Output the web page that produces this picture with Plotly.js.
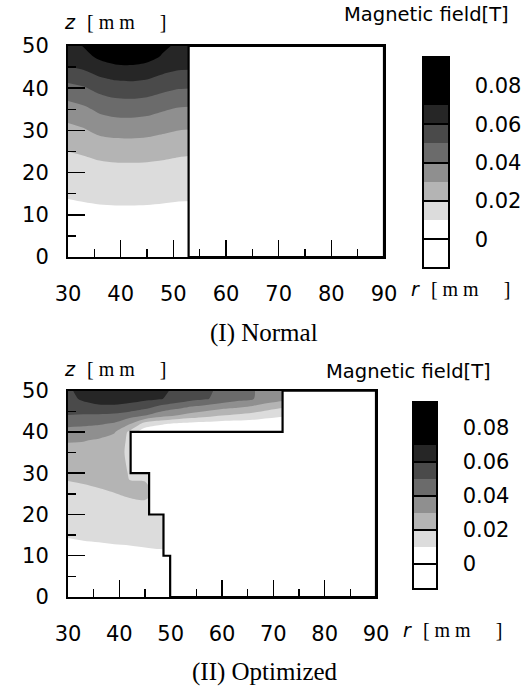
<!DOCTYPE html>
<html>
<head>
<meta charset="utf-8">
<script src="https://cdn.plot.ly/plotly-3.0.1.min.js"></script>
<style>html,body{margin:0;padding:0;background:#fff;}#chart{width:528px;height:686px;}</style>
</head>
<body>
<div id="chart"></div>
<script>
// ---------- (I) Normal : field B [T] on grid (rows = z, columns = r) ----------
const topR = [30, 33, 36, 39, 42, 45, 48, 51, 54];
const topZ = [0, 5, 10, 15, 20, 25, 30, 35, 40, 42.5, 45, 47.5, 50];
const topB = [
  [0.002, 0.0022, 0.0025, 0.0027, 0.0027, 0.0026, 0.0024, 0.0021, 0.002],
  [0.004, 0.0043, 0.0047, 0.005, 0.005, 0.0049, 0.0046, 0.0042, 0.0041],
  [0.007, 0.0074, 0.0078, 0.008, 0.008, 0.0079, 0.0077, 0.0073, 0.0072],
  [0.011, 0.0117, 0.0123, 0.0125, 0.0125, 0.0124, 0.012, 0.0116, 0.0115],
  [0.0155, 0.016, 0.0167, 0.017, 0.017, 0.0169, 0.0165, 0.016, 0.0158],
  [0.020, 0.021, 0.0225, 0.0233, 0.0235, 0.0232, 0.0225, 0.0215, 0.021],
  [0.027, 0.029, 0.0325, 0.0338, 0.034, 0.0333, 0.0315, 0.030, 0.0295],
  [0.0355, 0.038, 0.042, 0.0438, 0.044, 0.0432, 0.041, 0.039, 0.0385],
  [0.047, 0.049, 0.053, 0.0555, 0.056, 0.055, 0.0525, 0.0505, 0.050],
  [0.053, 0.055, 0.0595, 0.0615, 0.062, 0.061, 0.058, 0.0555, 0.055],
  [0.0598, 0.062, 0.066, 0.068, 0.0685, 0.067, 0.064, 0.062, 0.0615],
  [0.064, 0.067, 0.072, 0.076, 0.0765, 0.074, 0.069, 0.0655, 0.065],
  [0.066, 0.0705, 0.079, 0.084, 0.085, 0.082, 0.072, 0.068, 0.067]
];
// iron region outline (I)
const topIronR = [52.9, 90, 90, 52.9, 52.9];
const topIronZ = [0, 0, 50, 50, 0];

// ---------- (II) Optimized ----------
const botR = [30, 33, 36, 39, 42, 45, 48, 51, 54, 57, 60, 63, 66, 69, 72, 75];
const botZ = [0, 5, 10, 15, 20, 25, 30, 35, 38, 40, 42, 44, 46, 48, 50];
const botB = [
  [0.003, 0.003, 0.003, 0.003, 0.003, 0.0032, 0.0033, 0.0033, 0.001, 0.001, 0.001, 0.001, 0.001, 0.001, 0.001, 0.001],
  [0.005, 0.005, 0.0052, 0.0053, 0.0053, 0.0054, 0.0055, 0.0055, 0.001, 0.001, 0.001, 0.001, 0.001, 0.001, 0.001, 0.001],
  [0.007, 0.0073, 0.0076, 0.0079, 0.008, 0.0085, 0.0088, 0.0088, 0.001, 0.001, 0.001, 0.001, 0.001, 0.001, 0.001, 0.001],
  [0.0105, 0.011, 0.0113, 0.0117, 0.012, 0.0122, 0.0125, 0.0125, 0.001, 0.001, 0.001, 0.001, 0.001, 0.001, 0.001, 0.001],
  [0.014, 0.0145, 0.015, 0.0155, 0.016, 0.0165, 0.0165, 0.0165, 0.001, 0.001, 0.001, 0.001, 0.001, 0.001, 0.001, 0.001],
  [0.0175, 0.018, 0.0188, 0.0198, 0.021, 0.0215, 0.018, 0.018, 0.001, 0.001, 0.001, 0.001, 0.001, 0.001, 0.001, 0.001],
  [0.0215, 0.0222, 0.023, 0.0235, 0.0195, 0.019, 0.015, 0.015, 0.001, 0.001, 0.001, 0.001, 0.001, 0.001, 0.001, 0.001],
  [0.026, 0.0262, 0.0265, 0.024, 0.018, 0.018, 0.010, 0.010, 0.001, 0.001, 0.001, 0.001, 0.001, 0.001, 0.001, 0.001],
  [0.031, 0.0305, 0.029, 0.026, 0.018, 0.012, 0.006, 0.006, 0.001, 0.001, 0.001, 0.001, 0.001, 0.001, 0.001, 0.001],
  [0.0365, 0.0355, 0.0345, 0.031, 0.018, 0.004, 0.002, 0.001, 0.001, 0.001, 0.001, 0.001, 0.001, 0.001, 0.001, 0.001],
  [0.0425, 0.042, 0.041, 0.039, 0.031, 0.016, 0.0115, 0.0085, 0.007, 0.006, 0.005, 0.005, 0.0045, 0.004, 0.004, 0.004],
  [0.0497, 0.049, 0.0485, 0.0475, 0.044, 0.040, 0.034, 0.030, 0.026, 0.023, 0.020, 0.018, 0.016, 0.013, 0.011, 0.011],
  [0.054, 0.056, 0.0585, 0.0585, 0.057, 0.053, 0.047, 0.043, 0.039, 0.036, 0.033, 0.031, 0.028, 0.024, 0.021, 0.021],
  [0.057, 0.0615, 0.063, 0.0635, 0.063, 0.062, 0.0605, 0.057, 0.053, 0.0505, 0.047, 0.043, 0.0405, 0.036, 0.033, 0.033],
  [0.058, 0.064, 0.066, 0.067, 0.067, 0.065, 0.0625, 0.058, 0.055, 0.0515, 0.048, 0.045, 0.0405, 0.037, 0.035, 0.035]
];
// iron region outline (II)
const botIronR = [71.8, 71.8, 42.2, 42.2, 45.8, 45.8, 48.6, 48.6, 49.9, 49.9, 90, 90, 71.8];
const botIronZ = [50, 40, 40, 30, 30, 20, 20, 10, 10, 0, 0, 50, 50];

// ---------- contour levels / colour bands ----------
const levelStart = -0.01, levelEnd = 0.09, levelSize = 0.01;
const bandEdges = [0.01, 0.02, 0.03, 0.04, 0.05, 0.06, 0.07];
const bandColors = ['#ffffff', '#dcdcdc', '#b4b4b4', '#8f8f8f', '#6b6b6b', '#4a4a4a', '#262626', '#000000'];
const cbTicks = [0, 0.02, 0.04, 0.06, 0.08];

const lo = levelStart - levelSize / 2, hi = levelEnd + levelSize / 2;
const colorscale = [[0, bandColors[0]]];
bandEdges.forEach((e, i) => {
  const t = (e - lo) / (hi - lo);
  colorscale.push([t, bandColors[i]]);
  colorscale.push([t, bandColors[i + 1]]);
});
colorscale.push([1, bandColors[bandColors.length - 1]]);

const W = 528, H = 686;
const px = v => v / W, py = v => 1 - v / H;
const tickFont = {family: 'DejaVu Sans', size: 21, color: '#000'};
const pad = '\u00a0\u00a0\u00a0';

function cbar(left, top, bottom, thick) {
  return {
    x: px(left), xanchor: 'left', xpad: 0, ypad: 0,
    y: py((top + bottom) / 2), yanchor: 'middle',
    len: (bottom - top) / H, lenmode: 'fraction',
    thickness: thick, outlinewidth: 2, outlinecolor: '#000',
    tickmode: 'array', tickvals: cbTicks,
    ticktext: cbTicks.map(v => pad + (v === 0 ? '0' : v.toFixed(2))),
    ticks: 'inside', ticklen: thick, tickwidth: 2, tickcolor: '#000',
    tickfont: tickFont
  };
}

function contourTrace(r, z, b, xa, ya, cb) {
  return {
    type: 'contour', x: r, y: z, z: b, xaxis: xa, yaxis: ya,
    autocontour: false,
    contours: {start: levelStart, end: levelEnd, size: levelSize, coloring: 'fill', showlines: false},
    line: {width: 0, smoothing: 0.8},
    colorscale: colorscale, showscale: true, colorbar: cb,
    hoverinfo: 'skip'
  };
}
function ironTrace(r, z, xa, ya) {
  return {
    type: 'scatter', mode: 'lines', x: r, y: z, xaxis: xa, yaxis: ya,
    fill: 'toself', fillcolor: '#ffffff',
    line: {color: '#000', width: 2.2}, showlegend: false, hoverinfo: 'skip'
  };
}

const data = [
  contourTrace(topR, topZ, topB, 'x', 'y', cbar(422.7, 57.3, 268, 26)),
  ironTrace(topIronR, topIronZ, 'x', 'y'),
  contourTrace(botR, botZ, botB, 'x2', 'y2', cbar(413.3, 402.3, 589, 24)),
  ironTrace(botIronR, botIronZ, 'x2', 'y2')
];

function xax(d0, d1, anchor) {
  return {
    domain: [px(d0), px(d1)], range: [30, 90], anchor: anchor,
    showline: true, mirror: true, linewidth: 2, linecolor: '#000',
    showgrid: false, zeroline: false,
    tickmode: 'linear', tick0: 30, dtick: 10,
    ticks: 'inside', ticklen: 17, tickwidth: 1.5, tickcolor: '#000',
    minor: {ticks: 'inside', ticklen: 8, tickwidth: 1.5, tickcolor: '#000', tick0: 30, dtick: 5, showgrid: false},
    tickfont: tickFont, ticklabelstandoff: 17, fixedrange: true
  };
}
function yax(top, bottom, anchor) {
  return {
    domain: [py(bottom), py(top)], range: [0, 50], anchor: anchor,
    showline: true, mirror: true, linewidth: 2, linecolor: '#000',
    showgrid: false, zeroline: false,
    tickmode: 'linear', tick0: 0, dtick: 10,
    ticks: 'inside', ticklen: 17, tickwidth: 1.5, tickcolor: '#000',
    minor: {ticks: 'inside', ticklen: 8, tickwidth: 1.5, tickcolor: '#000', tick0: 0, dtick: 5, showgrid: false},
    tickfont: tickFont, ticklabelstandoff: 13, fixedrange: true
  };
}

const serif = 'Liberation Serif';
const unit = '<span style="font-family:Liberation Serif;font-size:20px">[\u00a0m\u00a0m\u00a0\u00a0\u00a0\u00a0\u00a0]</span>';
const zLabel = '<i>z</i>\u00a0\u00a0' + unit;
const rLabel = '<i>r</i>\u00a0\u00a0' + unit;
function ann(text, x, y, xanchor, font) {
  return {text: text, xref: 'paper', yref: 'paper', x: px(x), y: py(y),
    xanchor: xanchor, yanchor: 'middle', showarrow: false, font: font};
}
const labFont = {family: 'DejaVu Sans', size: 19, color: '#000'};
const magFont = {family: 'DejaVu Sans', size: 19.5, color: '#000'};
const titleFont = {family: serif, size: 25, color: '#000'};

const layout = {
  width: W, height: H, margin: {l: 0, r: 0, t: 0, b: 0, autoexpand: false},
  paper_bgcolor: '#fff', plot_bgcolor: '#fff', showlegend: false,
  xaxis: xax(68, 384, 'y'), yaxis: yax(46, 257, 'x'),
  xaxis2: xax(68, 376, 'y2'), yaxis2: yax(390.7, 597, 'x2'),
  annotations: [
    ann(zLabel, 62, 22, 'left', labFont),
    ann('Magnetic field[T]', 511, 15, 'right', magFont),
    ann(rLabel, 409, 289, 'left', labFont),
    ann('(I) Normal', 264, 333, 'center', titleFont),
    ann(zLabel, 62, 369, 'left', labFont),
    ann('Magnetic field[T]', 493, 371, 'right', magFont),
    ann(rLabel, 401, 630, 'left', labFont),
    ann('(II) Optimized', 265, 672, 'center', titleFont)
  ]
};

Plotly.newPlot('chart', data, layout, {displayModeBar: false, staticPlot: true});
</script>
</body>
</html>
